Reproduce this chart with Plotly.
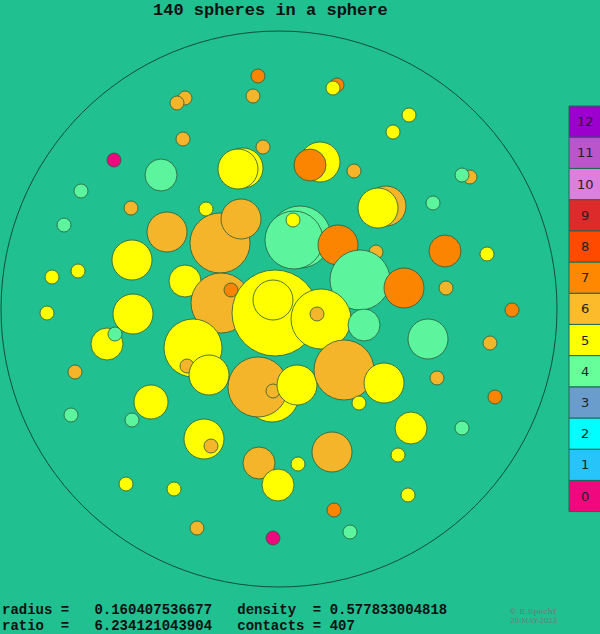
import plotly.graph_objects as go

# circles in pixel coordinates: x, y, r, color class (contacts)
xs = [243,238,161,81,131,64,206,167,220,241,132,78,52,185,221,231,47,133,
      258,185,177,253,183,263,114,
      337,333,409,393,320,310,354,470,462,386,378,433,300,294,293,338,376,445,487,360,404,512,446,
      275,273,321,317,364,193,187,209,272,258,273,297,344,384,359,
      107,115,75,151,71,132,204,211,259,278,126,174,197,273,
      428,490,495,437,462,411,398,332,298,408,334,350]
ys = [168,169,175,191,208,225,209,232,243,219,260,271,277,281,303,290,313,314,
      76,98,103,96,139,147,160,
      85,88,115,132,162,165,171,177,175,206,208,203,237,240,220,245,252,251,254,280,288,310,288,
      313,300,319,314,325,348,366,375,395,387,391,385,370,383,403,
      344,334,372,402,415,420,439,446,463,485,484,489,528,538,
      339,343,397,378,428,428,455,452,464,495,510,532]
rs = [20,20,16,7,7,7,7,20,30,20,20,7,7,16,30,7,7,20,
      7,7,7,7,7,7,7,
      7,7,7,7,20,16,7,7,7,20,20,7,31,29,7,20,7,16,7,30,20,7,7,
      43,20,30,7,16,29,7,20,27,30,7,20,30,20,7,
      16,7,7,17,7,7,20,7,16,16,7,7,7,7,
      20,7,7,7,7,16,7,20,7,7,7,7]
cs = [5,5,4,4,6,4,5,6,6,6,5,5,5,5,6,7,5,5,
      7,6,6,6,6,6,0,
      7,5,5,5,5,7,6,6,4,6,5,4,4,4,5,7,6,7,5,4,7,7,6,
      5,5,5,6,4,5,6,5,5,6,6,5,6,5,5,
      5,4,6,5,4,4,5,6,6,5,5,5,6,0,
      4,6,7,6,4,5,5,6,5,5,7,4]

legend_labels = [str(i) for i in range(13)]
palette = ["#f0087f", "#26c4f8", "#00ffff", "#6a9ccc", "#66ff99", "#ffff00", "#fbbb2a",
           "#ff8800", "#ff4a00", "#dd2a2a", "#dd7fdd", "#bb55cc", "#9b00cc"]
fill = {0: "#f0087f", 4: "#5cf59e", 5: "#ffff00", 6: "#f5b52a", 7: "#fb8500"}

title = "140 spheres in a sphere"
line1 = "radius =   0.160407536677   density  = 0.577833004818"
line2 = "ratio  =   6.234121043904   contacts = 407"

BG = "#20c090"
shapes = []
shapes.append(dict(type="circle", xref="x", yref="y", x0=279-278, x1=279+278, y0=309-278, y1=309+278,
                   line=dict(color="#10503a", width=1), fillcolor="rgba(0,0,0,0)"))
for x, y, r, c in zip(xs, ys, rs, cs):
    shapes.append(dict(type="circle", xref="x", yref="y", x0=x-r, x1=x+r, y0=y-r, y1=y+r,
                       fillcolor=fill.get(c, palette[c]), line=dict(color="#2a5a3a", width=0.8)))

annotations = []
top, h = 106, 31.2
for i, lab in enumerate(legend_labels):
    y0 = top + (12 - i) * h
    shapes.append(dict(type="rect", xref="x", yref="y", x0=569, x1=601, y0=y0, y1=y0 + h,
                       fillcolor=palette[i], line=dict(color="#1a6a50", width=1)))
    annotations.append(dict(x=585, y=y0 + h / 2, xref="x", yref="y", text=lab, showarrow=False,
                            font=dict(family="DejaVu Sans", size=13, color="#222")))

annotations += [
    dict(x=270, y=10, xref="x", yref="y", text="<b>" + title + "</b>", showarrow=False,
         font=dict(family="Liberation Mono", size=17, color="#111")),
    dict(x=0, y=610, xref="x", yref="y", text="<b>" + line1.replace(" ", "&nbsp;") + "</b>", showarrow=False,
         xanchor="left", font=dict(family="Liberation Mono", size=14, color="#111")),
    dict(x=0, y=626, xref="x", yref="y", text="<b>" + line2.replace(" ", "&nbsp;") + "</b>", showarrow=False,
         xanchor="left", font=dict(family="Liberation Mono", size=14, color="#111")),
    dict(x=533, y=611, xref="x", yref="y", text="© E.Specht", showarrow=False,
         font=dict(family="DejaVu Serif", size=8, color="#777")),
    dict(x=533, y=621, xref="x", yref="y", text="20-MAY-2023", showarrow=False,
         font=dict(family="DejaVu Serif", size=7, color="#777")),
]

fig = go.Figure(go.Scatter(x=xs, y=ys, mode="markers", marker=dict(opacity=0), hoverinfo="skip"))
fig.update_layout(width=600, height=634, margin=dict(l=0, r=0, t=0, b=0),
                  paper_bgcolor=BG, plot_bgcolor=BG, showlegend=False,
                  shapes=shapes, annotations=annotations)
fig.update_xaxes(range=[0, 600], visible=False, fixedrange=True)
fig.update_yaxes(range=[634, 0], visible=False, fixedrange=True)
fig.write_html("out.html", config={"displayModeBar": False},
               post_script="document.body.style.margin='0';document.body.style.overflow='hidden';")
